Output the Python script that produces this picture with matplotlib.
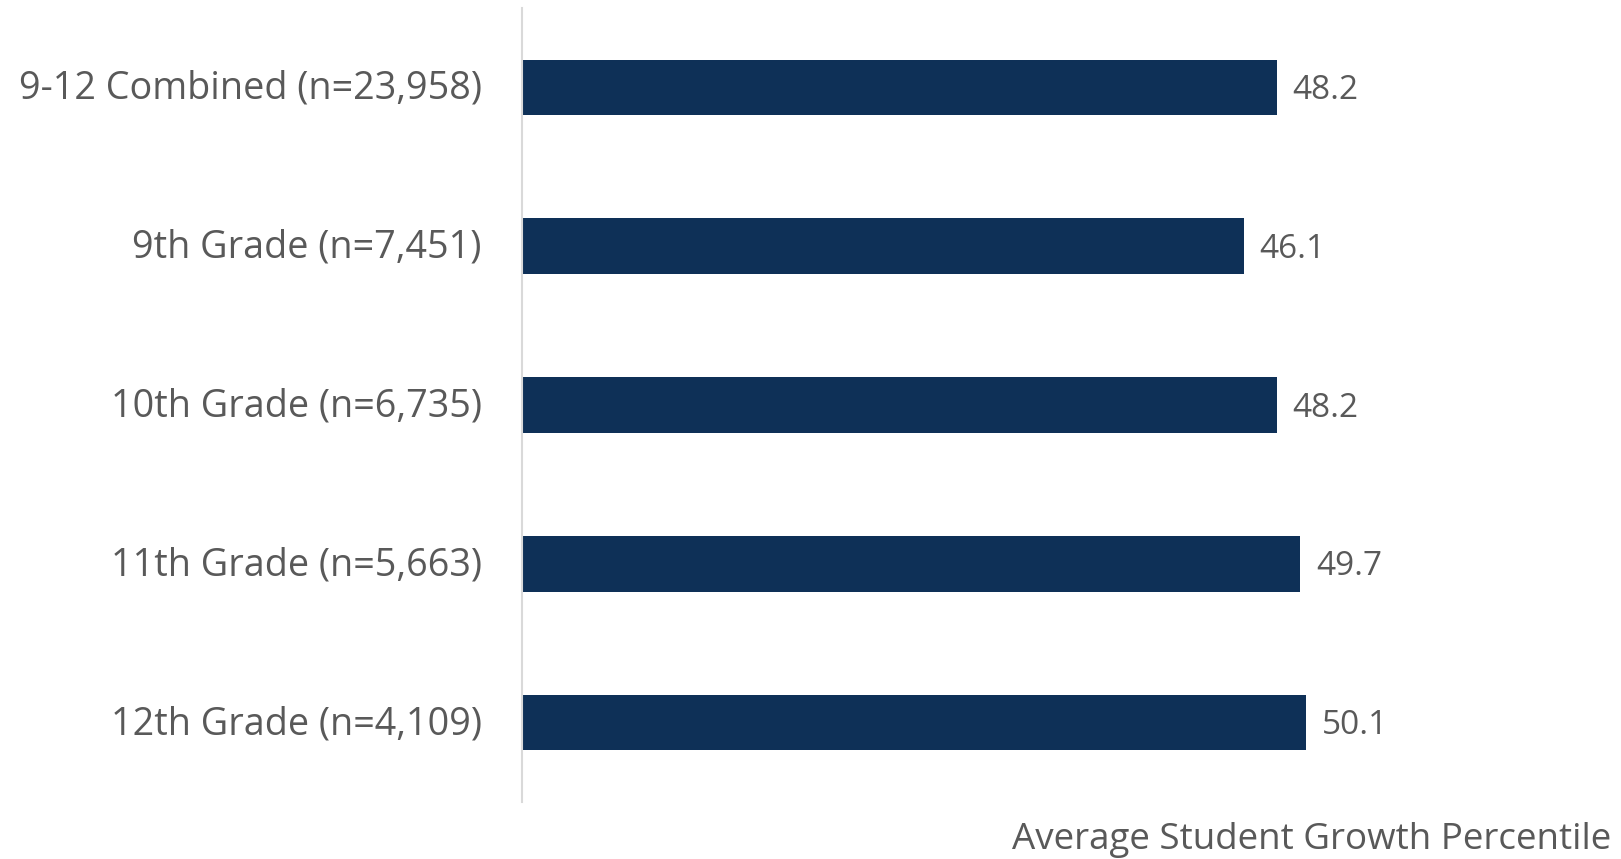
import matplotlib
matplotlib.use("Agg")
import matplotlib.pyplot as plt
import matplotlib.transforms as mtransforms

categories = [
    "9-12 Combined (n=23,958)",
    "9th Grade (n=7,451)",
    "10th Grade (n=6,735)",
    "11th Grade (n=5,663)",
    "12th Grade (n=4,109)",
]
values = [48.2, 46.1, 48.2, 49.7, 50.1]
x_label = "Average Student Growth Percentile"

bar_color = "#0E3057"
text_color = "#595959"
font = ["Open Sans", "DejaVu Sans"]

fig = plt.figure(figsize=(16.21, 8.59), dpi=100)
ax = fig.add_axes([522 / 1621, 1 - 802 / 859, 1096 / 1621, 794 / 859])

ypos = list(range(len(categories)))
ax.barh(ypos, values, height=0.35, color=bar_color)
ax.set_ylim(len(categories) - 0.5, -0.5)
ax.set_xlim(0, 70)

ax.set_yticks(ypos)
ax.set_yticklabels(categories, fontsize=27.2, color=text_color, family=font)
ax.tick_params(axis="y", length=0, pad=29)
ax.set_xticks([])

# nudge category labels up slightly so they sit level with the bars
shift = mtransforms.ScaledTranslation(0, 3 / 100, fig.dpi_scale_trans)
for lbl in ax.get_yticklabels():
    lbl.set_transform(lbl.get_transform() + shift)

for s in ["top", "right", "bottom"]:
    ax.spines[s].set_visible(False)
ax.spines["left"].set_color("#D9D9D9")
ax.spines["left"].set_linewidth(1.5)

for y, v in zip(ypos, values):
    ax.text(v + 1.0, y + 0.02, f"{v:.1f}", va="center", ha="left",
            fontsize=24, color=text_color, family=font)

fig.text(1611 / 1621, 1 - 840 / 859, x_label, ha="right", va="center",
         fontsize=26.5, color=text_color, family=font)

fig.savefig("out.png", dpi=100, facecolor="white")
